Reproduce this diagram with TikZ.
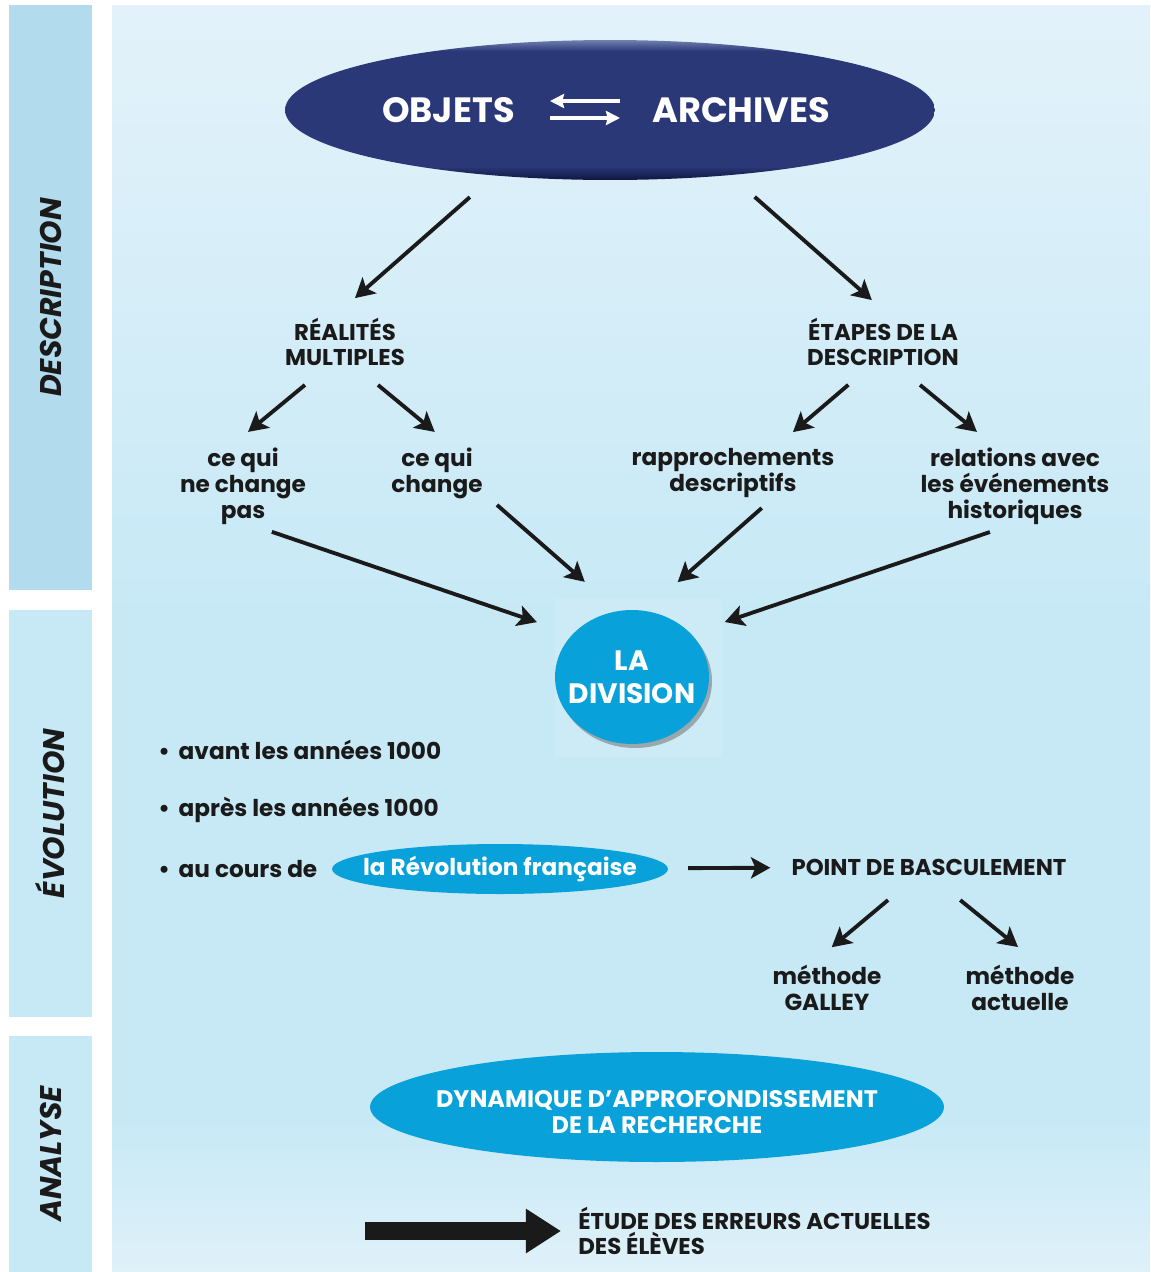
\documentclass[tikz,border=0pt]{standalone}
\usepackage{fontspec}
\setmainfont{Poppins}
\usepackage{tikz}
\usetikzlibrary{shapes.geometric, arrows.meta, shadows}
\definecolor{ink}{HTML}{1A1A1A}
\definecolor{navyMain}{HTML}{2B3878}
\definecolor{navyDark}{HTML}{0F1640}
\definecolor{navyLight}{HTML}{7080B0}
\definecolor{cyanB}{HTML}{08A1D9}
\definecolor{barDesc}{HTML}{B2DCEE}
\definecolor{barRest}{HTML}{C7E8F5}
\definecolor{panTop}{HTML}{E3F2FA}
\definecolor{panMid}{HTML}{C7E9F6}
\definecolor{panBot}{HTML}{DFF1F9}
\pgfdeclareverticalshading{panelsh}{100bp}{color(0bp)=(panBot); color(25bp)=(panBot); color(31bp)=(panMid); color(51bp)=(panMid); color(75bp)=(panTop); color(100bp)=(panTop)}
\pgfdeclareverticalshading{navyrim}{100bp}{color(0bp)=(navyDark); color(25bp)=(navyDark); color(30bp)=(navyMain); color(71bp)=(navyMain); color(75bp)=(navyLight); color(100bp)=(navyLight)}
\tikzstyle{bar} = [rectangle, rotate=90, minimum height=1.66cm, inner sep=0pt, text=ink, font=\fontsize{17}{20}\selectfont\bfseries\itshape]
\tikzstyle{capslbl} = [align=center, text=ink, font=\fontsize{13}{14.7}\selectfont\bfseries]
\tikzstyle{lowlbl} = [align=center, text=ink, font=\fontsize{13.2}{14.7}\selectfont\bfseries]
\tikzstyle{blob} = [ellipse, fill=cyanB, inner sep=0pt]
\tikzstyle{inwhite} = [align=center, text=white, font=\fontsize{13.2}{14.7}\selectfont\bfseries]
\tikzstyle{titletxt} = [inner sep=0pt, text=white, font=\fontsize{20}{24}\selectfont\bfseries]
\tikzstyle{arrow} = [line width=2.2pt, draw=ink, ->, >={Stealth[length=11pt, width=12pt, inset=2.5pt]}]
\tikzstyle{twin} = [line width=1.8pt, draw=white, ->, >={Stealth[length=8pt, width=8pt, inset=1pt]}]
\tikzstyle{bigarrow} = [line width=10pt, draw=ink, -{Triangle[length=20pt, width=24pt]}]

\begin{document}
\begin{tikzpicture}[x=0.02cm, y=-0.02cm]
\useasboundingbox (0,0) rectangle (1151,1272);
\fill[white] (0,0) rectangle (1151,1272);
% background panel and side bars
\shade[shading=panelsh] (112,5) rectangle (1150,1272);
\node (descbar) [bar, fill=barDesc, minimum width=11.7cm] at (50.5,297.5) {DESCRIPTION};
\node (evobar) [bar, fill=barRest, minimum width=8.14cm] at (50.5,813.5) {ÉVOLUTION};
\node (anabar) [bar, fill=barRest, minimum width=4.72cm] at (50.5,1154) {ANALYSE};

% description
\node (objarch) [ellipse, shading=navyrim, minimum width=13cm, minimum height=2.8cm, inner sep=0pt] at (610,110) {};
\node (objets) [titletxt, anchor=east] at (515,110) {OBJETS};
\node (archives) [titletxt, anchor=west] at (652,110) {ARCHIVES};
\node (realites) [capslbl] at (345,342) {RÉALITÉS\\MULTIPLES};
\node (etapes) [capslbl] at (883,342) {ÉTAPES DE LA\\DESCRIPTION};
\node (nochange) [lowlbl] at (243,486) {ce qui\\ne change\\pas};
\node (change) [lowlbl] at (437,473) {ce qui\\change};
\node (rappro) [lowlbl] at (733,473) {rapprochements\\descriptifs};
\node (relations) [lowlbl] at (1015,486) {relations avec\\les événements\\historiques};
\fill[white, opacity=0.1] (555,598) rectangle (722,757);
\node (division) [blob, minimum width=3.08cm, minimum height=2.68cm, drop shadow={shadow xshift=0.06cm, shadow yshift=-0.08cm, opacity=0.5, fill=black!60}, label={[inwhite, font=\fontsize{16}{18.5}\selectfont\bfseries]center:{LA\\DIVISION}}] at (632,677) {};

% evolution
\node (avant) [lowlbl, anchor=west, inner sep=0pt] at (158,750) {\textbullet\hspace{5pt}avant les années 1000};
\node (apres) [lowlbl, anchor=west, inner sep=0pt] at (158,810) {\textbullet\hspace{5pt}après les années 1000};
\node (aucours) [lowlbl, anchor=west, inner sep=0pt] at (158,869) {\textbullet\hspace{5pt}au cours de};
\node (revol) [blob, minimum width=6.72cm, minimum height=1cm, label={[inwhite]center:la Révolution française}] at (500,869) {};
\node (bascule) [capslbl] at (929,867) {POINT DE BASCULEMENT};
\node (galley) [lowlbl] at (827,988) {méthode\\GALLEY};
\node (actuelle) [lowlbl] at (1020,988) {méthode\\actuelle};

% analyse
\node (dynamique) [blob, minimum width=11.48cm, minimum height=2.2cm, label={[inwhite, font=\fontsize{13.6}{14.7}\selectfont\bfseries, yshift=-0.1cm]center:{DYNAMIQUE D’APPROFONDISSEMENT\\DE LA RECHERCHE}}] at (657,1107) {};
\coordinate (bigstart) at (365,1231);
\node (etude) [capslbl, align=left, anchor=west, inner sep=0pt] at (578,1231) {ÉTUDE DES ERREURS ACTUELLES\\DES ÉLÈVES};

\draw[twin, shorten <=0.64cm, shorten >=0.7cm] ([yshift=0.18cm]archives.west) -- ([yshift=0.18cm]objets.east);
\draw[twin, shorten <=0.7cm, shorten >=0.64cm] ([yshift=-0.16cm]objets.east) -- ([yshift=-0.16cm]archives.west);
\draw[arrow, shorten <=2.64cm, shorten >=1.33cm] ([xshift=-0.82cm]objarch.center) -- ([xshift=-0.80cm]realites.center);
\draw[arrow, shorten <=2.63cm, shorten >=1.27cm] ([xshift=0.92cm]objarch.center) -- ([xshift=0.73cm]etapes.center);
\draw[arrow, shorten <=1.35cm, shorten >=1.70cm] ([xshift=0.24cm]realites.center) -- ([xshift=-1.21cm]nochange.center);
\draw[arrow, shorten <=1.35cm, shorten >=1.29cm] ([xshift=-0.38cm]realites.center) -- ([xshift=0.95cm]change.center);
\draw[arrow, shorten <=1.32cm, shorten >=1.26cm] ([xshift=0.31cm]etapes.center) -- ([xshift=0.24cm]rappro.center);
\draw[arrow, shorten <=1.35cm, shorten >=1.70cm] ([xshift=-0.30cm]etapes.center) -- ([xshift=0.55cm]relations.center);
\draw[arrow, shorten <=0.61cm, shorten >=2.01cm] ([yshift=-0.72cm]nochange.center) -- ([yshift=0.45cm]division.center);
\draw[arrow, shorten <=0.97cm, shorten >=2.89cm] ([xshift=0.47cm]change.center) -- ([xshift=1.23cm]division.center);
\draw[arrow, shorten <=1.06cm, shorten >=2.87cm] ([xshift=1.37cm]rappro.center) -- ([xshift=-1.24cm]division.center);
\draw[arrow, shorten <=0.53cm, shorten >=1.96cm] ([yshift=-0.75cm]relations.center) -- ([yshift=0.47cm]division.center);
\draw[arrow, shorten <=0.4cm, shorten >=0.3cm] (revol) -- (bascule);
\draw[arrow, shorten <=1.03cm, shorten >=1.27cm] ([xshift=-0.03cm]bascule.center) -- ([xshift=-0.88cm]galley.center);
\draw[arrow, shorten <=1.05cm, shorten >=1.30cm] ([xshift=-0.19cm]bascule.center) -- ([xshift=0.97cm]actuelle.center);
\draw[bigarrow, shorten >=0.34cm] (bigstart) -- (etude.west);
\end{tikzpicture}
\end{document}
